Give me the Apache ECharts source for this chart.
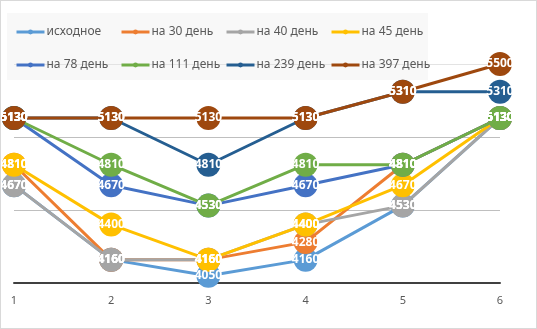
<!DOCTYPE html>
<html>
<head>
<meta charset="utf-8">
<script src="https://cdn.jsdelivr.net/npm/echarts@6/dist/echarts.min.js"></script>
<style>
  html, body { margin: 0; padding: 0; background: #fff; }
  #main { width: 537px; height: 329px; box-sizing: border-box; border: 1px solid #d9d9d9; }
</style>
</head>
<body>
<div id="main"></div>
<script>
var days = ['1', '2', '3', '4', '5', '6'];

var seriesNames = ['исходное', 'на 30 день', 'на 40 день', 'на 45 день',
    'на 78 день', 'на 111 день', 'на 239 день', 'на 397 день'];
var colors = ['#5b9bd5', '#ed7d31', '#a5a5a5', '#ffc000',
    '#4472c4', '#70ad47', '#255e91', '#9e480e'];

var ishodnoe = [4670, 4160, 4050, 4160, 4530, 5130];
var day30 = [4810, 4160, 4160, 4280, 4810, 5130];
var day40 = [4670, 4160, 4160, 4400, 4530, 5130];
var day45 = [4810, 4400, 4160, 4400, 4670, 5130];
var day78 = [5130, 4670, 4530, 4670, 4810, 5130];
var day111 = [5130, 4810, 4530, 4810, 4810, 5130];
var day239 = [5130, 5130, 4810, 5130, 5310, 5310];
var day397 = [5130, 5130, 5130, 5130, 5310, 5500];

var allData = [ishodnoe, day30, day40, day45, day78, day111, day239, day397];

var chart = echarts.init(document.getElementById('main'));

// one legend per item so the columns line up like the original
var legends = [];
for (var i = 0; i < seriesNames.length; i++) {
    legends.push({
        data: [seriesNames[i]],
        left: 14 + (i % 4) * 105,
        top: i < 4 ? 25 : 58,
        padding: 0,
        itemWidth: 28,
        itemHeight: 6,
        itemGap: 0,
        lineStyle: {width: 3},
        textStyle: {color: '#595959', fontSize: 12, fontFamily: 'Noto Sans', padding: [0, 0, 0, -3]}
    });
}

var series = [];
for (var j = 0; j < seriesNames.length; j++) {
    series.push({
        name: seriesNames[j],
        type: 'line',
        data: allData[j],
        symbol: 'circle',
        symbolSize: 24,
        lineStyle: {width: 3, color: colors[j]},
        itemStyle: {color: colors[j]},
        label: {
            show: true,
            position: 'inside',
            color: '#fff',
            fontSize: 12,
            fontWeight: 'bold',
            fontFamily: 'Noto Sans'
        },
        emphasis: {disabled: true}
    });
}

var option = {
    animation: false,
    color: colors,
    graphic: [{
        type: 'rect',
        left: 6,
        top: 12,
        shape: {width: 421, height: 67},
        style: {fill: 'rgba(242,242,242,0.55)'},
        z: -10,
        silent: true
    }],
    legend: legends,
    grid: {left: 13, right: 36, top: 63, bottom: 45},
    xAxis: {
        type: 'category',
        boundaryGap: false,
        data: days,
        axisLine: {lineStyle: {color: '#404040', width: 2}},
        axisTick: {show: false},
        axisLabel: {color: '#595959', fontSize: 11, margin: 12, fontFamily: 'Noto Sans'}
    },
    yAxis: {
        type: 'value',
        min: 4000,
        max: 5500,
        interval: 500,
        axisLabel: {show: false},
        axisLine: {show: false},
        axisTick: {show: false},
        splitLine: {lineStyle: {color: ['#d9d9d9', '#bfbfbf', '#bfbfbf', '#e3e3e3']}}
    },
    series: series
};
chart.setOption(option);
</script>
</body>
</html>
